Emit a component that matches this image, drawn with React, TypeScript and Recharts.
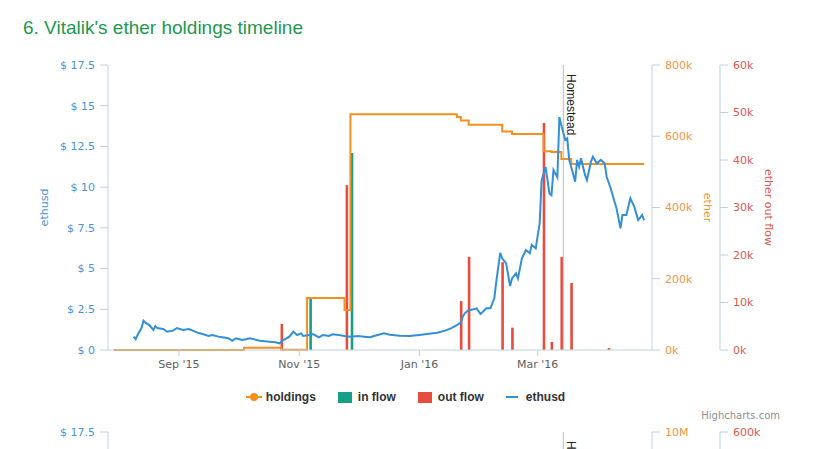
import { ComposedChart, Line, Bar, XAxis, YAxis, ReferenceLine, Legend } from 'recharts';

// ETH/USD price
const ethusd: [string, number][] = [
  ['2015-08-09', 0.82], ['2015-08-10', 0.67], ['2015-08-11', 0.92], ['2015-08-13', 1.35],
  ['2015-08-14', 1.8], ['2015-08-15', 1.68], ['2015-08-17', 1.53], ['2015-08-19', 1.23],
  ['2015-08-20', 1.47], ['2015-08-21', 1.35], ['2015-08-24', 1.29], ['2015-08-26', 1.12],
  ['2015-08-29', 1.19], ['2015-08-31', 1.35], ['2015-09-03', 1.23], ['2015-09-06', 1.29],
  ['2015-09-08', 1.19], ['2015-09-11', 1.04], ['2015-09-13', 0.98], ['2015-09-16', 0.86],
  ['2015-09-18', 0.92], ['2015-09-21', 0.82], ['2015-09-23', 0.78], ['2015-09-26', 0.72],
  ['2015-09-28', 0.57], ['2015-09-30', 0.72], ['2015-10-03', 0.61], ['2015-10-05', 0.66],
  ['2015-10-07', 0.72], ['2015-10-12', 0.57], ['2015-10-17', 0.51], ['2015-10-20', 0.47],
  ['2015-10-22', 0.41], ['2015-10-24', 0.61], ['2015-10-27', 0.82], ['2015-10-29', 1.12],
  ['2015-10-31', 0.92], ['2015-11-02', 1.02], ['2015-11-03', 0.86], ['2015-11-06', 0.92],
  ['2015-11-08', 0.98], ['2015-11-11', 0.78], ['2015-11-13', 0.92], ['2015-11-16', 0.86],
  ['2015-11-18', 0.96], ['2015-11-21', 0.92], ['2015-11-24', 0.86], ['2015-11-27', 0.82],
  ['2015-12-01', 0.86], ['2015-12-04', 0.82], ['2015-12-07', 0.78], ['2015-12-09', 0.86],
  ['2015-12-14', 1.02], ['2015-12-17', 0.94], ['2015-12-22', 0.88], ['2015-12-27', 0.86],
  ['2016-01-02', 0.94], ['2016-01-07', 1.02], ['2016-01-10', 1.06], ['2016-01-14', 1.19],
  ['2016-01-17', 1.33], ['2016-01-20', 1.53], ['2016-01-22', 1.68], ['2016-01-23', 2.05],
  ['2016-01-24', 2.25], ['2016-01-26', 2.46], ['2016-01-27', 2.46], ['2016-01-30', 2.56],
  ['2016-02-01', 2.21], ['2016-02-04', 2.56], ['2016-02-06', 2.56], ['2016-02-08', 3.17],
  ['2016-02-09', 4.2], ['2016-02-11', 5.97], ['2016-02-12', 5.63], ['2016-02-14', 5.32],
  ['2016-02-16', 3.93], ['2016-02-17', 4.4], ['2016-02-19', 4.71], ['2016-02-20', 4.4],
  ['2016-02-22', 5.63], ['2016-02-24', 6.14], ['2016-02-26', 5.94], ['2016-02-27', 6.45],
  ['2016-02-29', 6.24], ['2016-03-02', 7.78], ['2016-03-03', 10.4], ['2016-03-05', 11.25],
  ['2016-03-07', 9.6], ['2016-03-08', 9.5], ['2016-03-09', 11.05], ['2016-03-11', 10.6],
  ['2016-03-12', 14.3], ['2016-03-13', 13.8], ['2016-03-15', 12.9], ['2016-03-16', 13.0],
  ['2016-03-17', 11.67], ['2016-03-18', 11.25], ['2016-03-20', 10.33], ['2016-03-21', 11.67],
  ['2016-03-22', 11.25], ['2016-03-23', 11.77], ['2016-03-25', 10.75], ['2016-03-26', 10.44],
  ['2016-03-28', 11.56], ['2016-03-29', 11.87], ['2016-03-31', 11.46], ['2016-04-02', 11.67],
  ['2016-04-04', 11.46], ['2016-04-05', 10.64], ['2016-04-07', 9.93], ['2016-04-09', 9.1],
  ['2016-04-10', 8.7], ['2016-04-12', 7.47], ['2016-04-13', 8.29], ['2016-04-15', 8.29],
  ['2016-04-17', 9.32], ['2016-04-19', 8.8], ['2016-04-21', 7.98], ['2016-04-23', 8.29],
  ['2016-04-24', 7.98],
];

// ether held (step line)
const holdings: [string, number][] = [
  ['2015-07-30', 0], ['2015-10-04', 6500], ['2015-10-23', 500], ['2015-11-05', 146000],
  ['2015-11-24', 112000], ['2015-11-27', 662000], ['2016-01-20', 654000], ['2016-01-22', 644000],
  ['2016-01-26', 632000], ['2016-02-12', 613000], ['2016-02-17', 606000], ['2016-03-04', 558000],
  ['2016-03-08', 556000], ['2016-03-13', 536000], ['2016-03-18', 522000], ['2016-04-24', 522000],
];

const inFlow: [string, number][] = [
  ['2015-11-07', 146000], ['2015-11-28', 553000],
];

const outFlow: [string, number][] = [
  ['2015-10-23', 5500], ['2015-11-25', 34700], ['2016-01-22', 10300], ['2016-01-26', 19600],
  ['2016-02-12', 18500], ['2016-02-17', 4700], ['2016-03-04', 47800], ['2016-03-08', 1700],
  ['2016-03-13', 19600], ['2016-03-18', 14100], ['2016-04-06', 400],
];

const xTicks = ['2015-09-01', '2015-11-01', '2016-01-01', '2016-03-01'];
const xTickLabels = ["Sep '15", "Nov '15", "Jan '16", "Mar '16"];
const xRange = ['2015-07-27', '2016-04-28'];
const usdTicks = [0, 2.5, 5, 7.5, 10, 12.5, 15, 17.5];
const etherTicks = [0, 200000, 400000, 600000, 800000];
const outTicks = [0, 10000, 20000, 30000, 40000, 50000, 60000];
const etherTicks2 = [0, 2500000, 5000000, 7500000, 10000000];
const outTicks2 = [0, 100000, 200000, 300000, 400000, 500000, 600000];
const homestead = '2016-03-14';
const legendOrder = ['holdings', 'in flow', 'out flow', 'ethusd'];

const C_USD = '#3290d8';
const C_HOLD = '#f39020';
const C_IN = '#16a085';
const C_OUT = '#e74c3c';
const C_AXIS = '#C0D0E0';
const TICK_FONT = 'DejaVu Sans';

const ts = (d: string) => Date.parse(d);

const rows = new Map<number, any>();
const put = (list: [string, number][], key: string) =>
  list.forEach(([d, v]) => {
    const t = ts(d);
    const r = rows.get(t) ?? { t };
    r[key] = v;
    rows.set(t, r);
  });
put(ethusd, 'ethusd');
put(holdings, 'holdings');
put(inFlow, 'inFlow');
put(outFlow, 'outFlow');
const data = Array.from(rows.values()).sort((a, b) => a.t - b.t);

const axisTitle = (text: string, dx: number, angle: number, color: string) => (props: any) => {
  const { x, y, height } = props.viewBox;
  const cx = x + dx;
  const cy = y + height / 2;
  return (
    <text x={cx} y={cy} transform={`rotate(${angle} ${cx} ${cy})`} textAnchor="middle"
      dominantBaseline="central" fill={color} fontSize={11} fontFamily={TICK_FONT}>
      {text}
    </text>
  );
};

const homesteadLabel = (props: any) => {
  const { x, y } = props.viewBox;
  const lx = x + 4;
  const ly = y + 9;
  return (
    <text x={lx} y={ly} transform={`rotate(90 ${lx} ${ly})`} fill="#222" fontSize={12}
      fontFamily="Liberation Sans">
      Homestead
    </text>
  );
};

// thin column centred on its date
const thinBar = (color: string) => (p: any) => {
  if (!p.height || p.height <= 0) return <g />;
  return <rect x={p.x + p.width / 2 - 1.3} y={p.y} width={2.6} height={p.height} fill={color} />;
};

const legendIcon = (name: string, color: string) => {
  if (name === 'holdings') {
    return (
      <svg width={16} height={12} style={{ marginRight: 4 }}>
        <line x1={0} y1={6} x2={16} y2={6} stroke={color} strokeWidth={2} />
        <circle cx={8} cy={6} r={4} fill={color} />
      </svg>
    );
  }
  if (name === 'ethusd') {
    return (
      <svg width={12} height={12} style={{ marginRight: 8 }}>
        <line x1={0} y1={6} x2={12} y2={6} stroke={color} strokeWidth={2} />
      </svg>
    );
  }
  return <div style={{ width: 14, height: 11, background: color, marginRight: 6 }} />;
};

const renderLegend = (props: any) => {
  const items = [...(props.payload ?? [])].sort(
    (a: any, b: any) => legendOrder.indexOf(a.value) - legendOrder.indexOf(b.value),
  );
  return (
    <div style={{ display: 'flex', justifyContent: 'center', gap: 22, fontFamily: 'Liberation Sans',
      fontWeight: 'bold', fontSize: 12, color: '#333' }}>
      {items.map((p: any) => (
        <div key={p.value} style={{ display: 'flex', alignItems: 'center', height: 16 }}>
          {legendIcon(p.value, p.color)}
          <span>{p.value}</span>
        </div>
      ))}
    </div>
  );
};

const tickStyle = (fill: string) => ({ fill, fontSize: 11, fontFamily: TICK_FONT });

function TopChart() {
  return (
    <ComposedChart width={827} height={449} data={data} margin={{ top: 65, right: 27, bottom: 69, left: 0 }}>
      <XAxis dataKey="t" type="number" domain={[ts(xRange[0]), ts(xRange[1])]} allowDataOverflow
        ticks={xTicks.map(ts)} tickFormatter={(v: number) => xTickLabels[xTicks.map(ts).indexOf(v)] ?? ''}
        axisLine={{ stroke: C_AXIS }} tickLine={{ stroke: C_AXIS }} tickSize={6} tickMargin={4}
        tick={tickStyle('#606060')} height={30} />
      <YAxis yAxisId="usd" orientation="left" width={108} domain={[0, 17.5]} ticks={usdTicks}
        tickFormatter={(v: number) => `$ ${v}`} axisLine={{ stroke: C_AXIS }} tickLine={{ stroke: C_AXIS }}
        tickSize={8} tickMargin={5} tick={tickStyle('#4a93d6')} label={axisTitle('ethusd', 44, -90, '#4a93d6')} />
      <YAxis yAxisId="ether" orientation="right" width={68} domain={[0, 800000]} ticks={etherTicks}
        tickFormatter={(v: number) => `${v / 1000}k`} axisLine={{ stroke: C_AXIS }} tickLine={{ stroke: C_AXIS }}
        tickSize={8} tickMargin={5} tick={tickStyle('#f2953e')} label={axisTitle('ether', 55, 90, '#f2953e')} />
      <YAxis yAxisId="out" orientation="right" width={80} domain={[0, 60000]} ticks={outTicks}
        tickFormatter={(v: number) => `${v / 1000}k`} axisLine={{ stroke: C_AXIS }} tickLine={{ stroke: C_AXIS }}
        tickSize={8} tickMargin={5} tick={tickStyle('#dc5a4e')} label={axisTitle('ether out flow', 48, 90, '#dc5a4e')} />
      <ReferenceLine yAxisId="usd" x={ts(homestead)} stroke="#bbbbbb" strokeWidth={1} label={homesteadLabel} />
      <Line yAxisId="ether" dataKey="holdings" name="holdings" type="stepAfter" stroke={C_HOLD} strokeWidth={2}
        dot={false} connectNulls isAnimationActive={false} />
      <Bar yAxisId="ether" dataKey="inFlow" name="in flow" fill={C_IN} shape={thinBar(C_IN)} isAnimationActive={false} />
      <Bar yAxisId="out" dataKey="outFlow" name="out flow" fill={C_OUT} shape={thinBar(C_OUT)} isAnimationActive={false} />
      <Line yAxisId="usd" dataKey="ethusd" name="ethusd" type="linear" stroke={C_USD} strokeWidth={2}
        dot={false} connectNulls isAnimationActive={false} />
      <Legend verticalAlign="middle" layout="horizontal" content={renderLegend}
        wrapperStyle={{ top: 389, left: 0, width: 811 }} />
    </ComposedChart>
  );
}

// the next chart on the page, cut off by the bottom edge
function NextChart() {
  return (
    <ComposedChart width={827} height={320} data={data} margin={{ top: 20, right: 27, bottom: 40, left: 0 }}>
      <XAxis dataKey="t" type="number" domain={[ts(xRange[0]), ts(xRange[1])]} allowDataOverflow hide />
      <YAxis yAxisId="usd" orientation="left" width={108} domain={[0, 17.5]} ticks={usdTicks}
        tickFormatter={(v: number) => `$ ${v}`} axisLine={{ stroke: C_AXIS }} tickLine={{ stroke: C_AXIS }}
        tickSize={8} tickMargin={5} tick={tickStyle('#4a93d6')} />
      <YAxis yAxisId="ether" orientation="right" width={68} domain={[0, 10000000]} ticks={etherTicks2}
        tickFormatter={(v: number) => `${v / 1000000}M`} axisLine={{ stroke: C_AXIS }} tickLine={{ stroke: C_AXIS }}
        tickSize={8} tickMargin={5} tick={tickStyle('#f2953e')} />
      <YAxis yAxisId="out" orientation="right" width={80} domain={[0, 600000]} ticks={outTicks2}
        tickFormatter={(v: number) => `${v / 1000}k`} axisLine={{ stroke: C_AXIS }} tickLine={{ stroke: C_AXIS }}
        tickSize={8} tickMargin={5} tick={tickStyle('#dc5a4e')} />
      <ReferenceLine yAxisId="usd" x={ts(homestead)} stroke="#bbbbbb" strokeWidth={1} label={homesteadLabel} />
      <Line yAxisId="ether" dataKey="holdings" type="stepAfter" stroke={C_HOLD} strokeWidth={2}
        dot={false} connectNulls isAnimationActive={false} />
      <Line yAxisId="out" dataKey="outFlow" stroke="none" dot={false} connectNulls isAnimationActive={false} />
      <Line yAxisId="usd" dataKey="ethusd" type="linear" stroke={C_USD} strokeWidth={2}
        dot={false} connectNulls isAnimationActive={false} />
    </ComposedChart>
  );
}

export default function App() {
  return (
    <div style={{ position: 'absolute', left: 0, top: 0, width: 827, height: 449, overflow: 'hidden',
      background: '#fff', fontFamily: 'Liberation Sans' }}>
      <div style={{ position: 'absolute', left: 23, top: 18, fontSize: 19, lineHeight: '19px',
        color: '#22984f', whiteSpace: 'nowrap' }}>
        6. Vitalik's ether holdings timeline
      </div>
      <div style={{ position: 'absolute', left: 0, top: 0 }}>
        <TopChart />
      </div>
      <div style={{ position: 'absolute', right: 47, top: 410, fontSize: 10, lineHeight: '12px',
        color: '#909090', fontFamily: TICK_FONT }}>
        Highcharts.com
      </div>
      <div style={{ position: 'absolute', left: 0, top: 412 }}>
        <NextChart />
      </div>
    </div>
  );
}
